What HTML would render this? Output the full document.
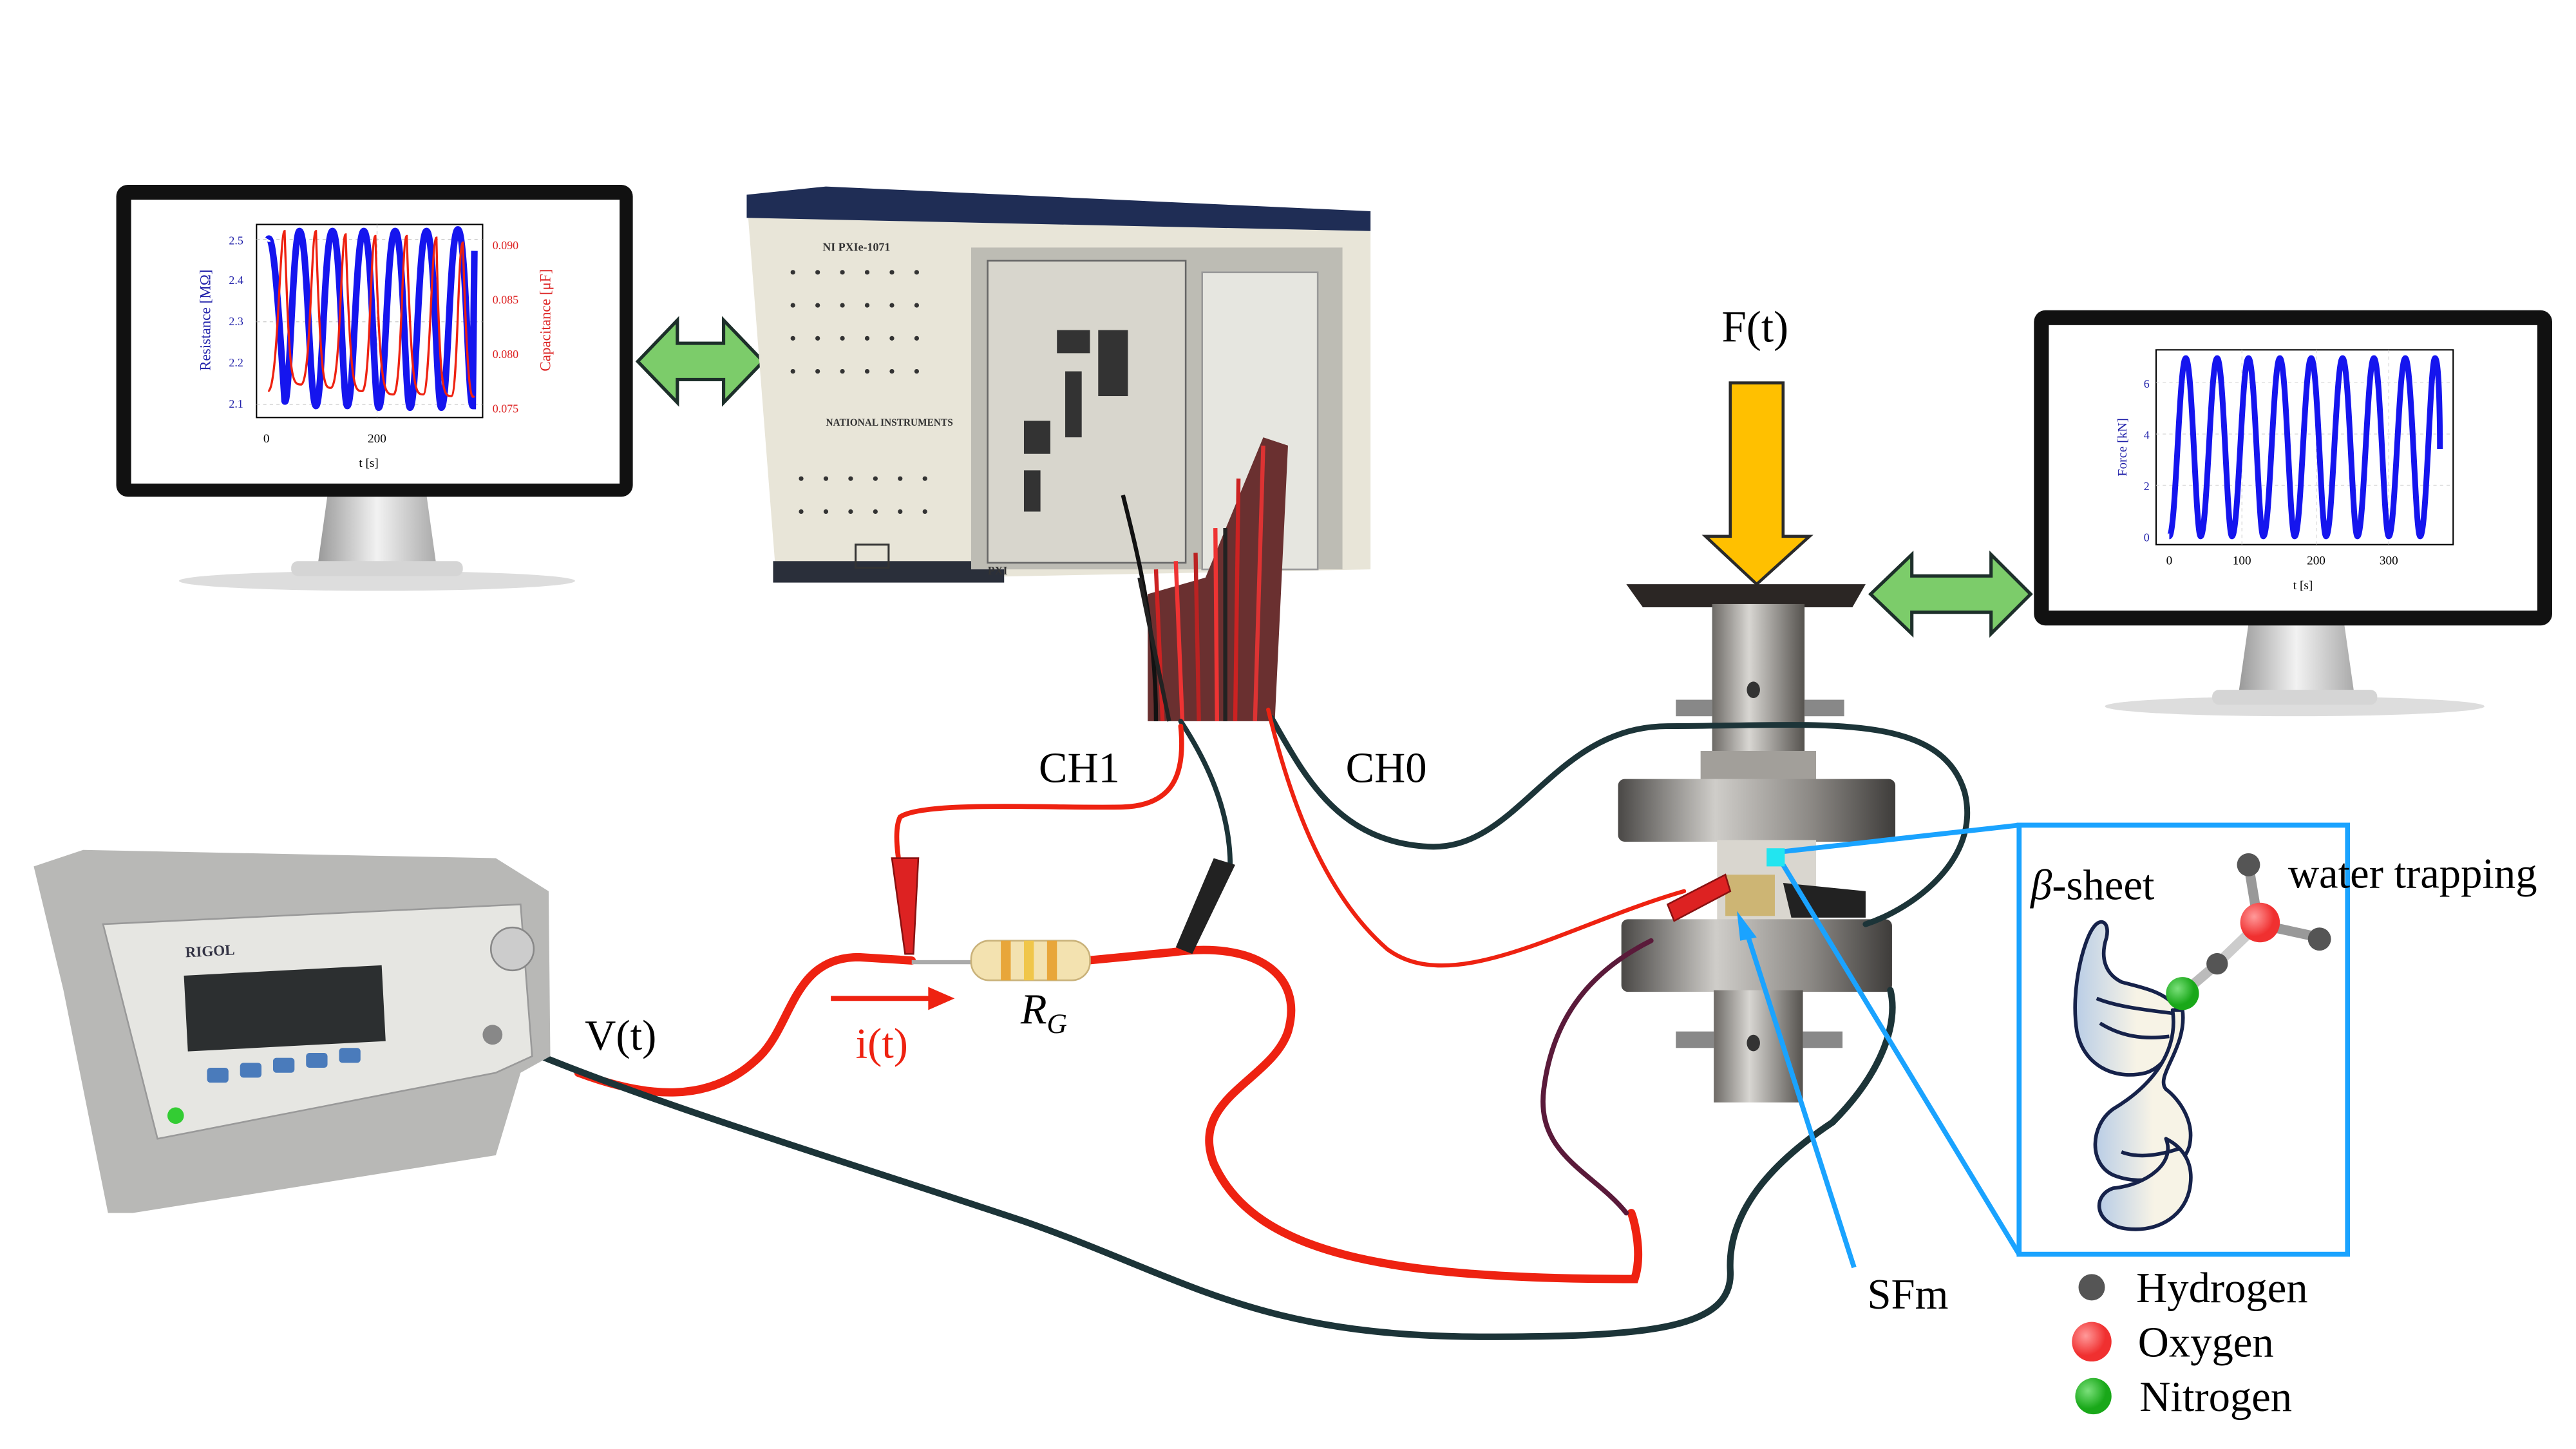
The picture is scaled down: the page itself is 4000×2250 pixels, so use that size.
<!DOCTYPE html>
<html><head><meta charset="utf-8"><style>
html,body{margin:0;padding:0;background:#fff;}
svg{display:block;}
text{font-family:"Liberation Serif",serif;}
</style></head><body>
<svg width="4000" height="2250" viewBox="0 0 1560 878" xmlns="http://www.w3.org/2000/svg">
<defs>
<linearGradient id="stand" x1="0" x2="1"><stop offset="0" stop-color="#999"/><stop offset="0.5" stop-color="#f2f2f2"/><stop offset="1" stop-color="#aaa"/></linearGradient>
<linearGradient id="col" x1="0" x2="1"><stop offset="0" stop-color="#6d6a66"/><stop offset="0.4" stop-color="#d8d6d2"/><stop offset="1" stop-color="#55524e"/></linearGradient>
<linearGradient id="flange" x1="0" x2="1"><stop offset="0" stop-color="#4a4846"/><stop offset="0.35" stop-color="#cfcdc9"/><stop offset="0.7" stop-color="#8b8884"/><stop offset="1" stop-color="#3e3c3a"/></linearGradient>
<radialGradient id="red" cx="0.35" cy="0.35"><stop offset="0" stop-color="#ff9a9a"/><stop offset="1" stop-color="#f03030"/></radialGradient>
<radialGradient id="grn" cx="0.35" cy="0.35"><stop offset="0" stop-color="#7be07b"/><stop offset="1" stop-color="#19a819"/></radialGradient>
<linearGradient id="rib" x1="0" x2="1"><stop offset="0" stop-color="#b9cde6"/><stop offset="0.6" stop-color="#f7f3e6"/><stop offset="1" stop-color="#f7f3e6"/></linearGradient>
</defs>

<!-- LEFT MONITOR -->
<ellipse cx="228" cy="352" rx="120" ry="6" fill="#ddd"/>
<path d="M198 300 L258 300 L264 343 L192 343 Z" fill="url(#stand)"/>
<rect x="176" y="340" width="104" height="9" rx="4" fill="#d5d5d5"/>
<rect x="70" y="112" width="313" height="189" rx="7" fill="#111"/>
<rect x="79" y="121" width="296" height="172" fill="#fff"/>
<rect x="155" y="136" width="137" height="117" fill="none" stroke="#000" stroke-width="0.8"/>
<g stroke="#bbb" stroke-width="0.4" stroke-dasharray="2,2"><line x1="155" y1="145" x2="292" y2="145"/><line x1="155" y1="195" x2="292" y2="195"/><line x1="155" y1="245" x2="292" y2="245"/><line x1="228" y1="136" x2="228" y2="253"/></g>
<path d="M162 145 C165 140 168 180 172 243 C175 250 177 140 181 140 C186 140 187 245 191 246 C195 246 196 140 201 140 C206 140 207 246 210 246 C214 246 215 140 220 140 C225 140 226 247 229 247 C233 247 234 140 239 140 C244 140 245 247 248 247 C252 247 253 140 258 140 C263 140 264 247 267 247 C271 247 272 139 277 139 C282 139 283 246 286 246 L287 152" fill="none" stroke="#1515ee" stroke-width="4"/>
<path d="M162 237 C168 237 169 140 172 140 C175 230 176 233 182 233 C188 233 188 140 191 140 C194 235 196 235 200 235 C206 235 206 142 209 142 C212 236 214 237 219 237 C224 237 224 143 227 143 C230 238 232 239 238 239 C243 239 243 143 246 143 C249 238 251 239 256 239 C260 239 261 144 264 144 C266 239 268 240 273 240 C277 240 277 147 280 147 C283 242 285 242 287 240" fill="none" stroke="#e21" stroke-width="1.3"/>
<g font-size="7" fill="#2222aa" text-anchor="end"><text x="147" y="148">2.5</text><text x="147" y="172">2.4</text><text x="147" y="197">2.3</text><text x="147" y="222">2.2</text><text x="147" y="247">2.1</text></g>
<g font-size="7" fill="#d22"><text x="298" y="151">0.090</text><text x="298" y="184">0.085</text><text x="298" y="217">0.080</text><text x="298" y="250">0.075</text></g>
<g font-size="7.5" fill="#000" text-anchor="middle"><text x="161" y="268">0</text><text x="228" y="268">200</text><text x="223" y="283">t [s]</text></g>
<text transform="translate(127,194) rotate(-90)" font-size="9" fill="#2222aa" text-anchor="middle">Resistance [MΩ]</text>
<text transform="translate(333,194) rotate(-90)" font-size="9" fill="#d22" text-anchor="middle">Capacitance [μF]</text>

<!-- LEFT DOUBLE ARROW -->
<path d="M386 219 L410 194 L410 208 L438 208 L438 194 L462 219 L438 244 L438 230 L410 230 L410 244 Z" fill="#7ccc6a" stroke="#1d2f2a" stroke-width="2"/>

<!-- PXI CHASSIS -->
<path d="M452 120 L830 128 L830 345 L470 352 Z" fill="#e8e5d8"/>
<path d="M452 118 L500 113 L830 128 L830 140 L452 132 Z" fill="#1f2d55"/>
<rect x="468" y="340" width="140" height="13" fill="#2a2f3a"/>
<rect x="588" y="150" width="225" height="195" fill="#bdbcb4"/>
<rect x="598" y="158" width="120" height="183" fill="#d8d6cd" stroke="#666" stroke-width="1"/>
<rect x="728" y="165" width="70" height="180" fill="#e6e6e0" stroke="#999"/>
<g fill="#333"><rect x="640" y="200" width="20" height="14"/><rect x="665" y="200" width="18" height="40"/><rect x="620" y="255" width="16" height="20"/><rect x="645" y="225" width="10" height="40"/><rect x="620" y="285" width="10" height="25"/></g>
<g fill="#333" font-family="Liberation Sans,sans-serif" font-size="7" font-weight="bold"><text x="498" y="152">NI PXIe-1071</text><text x="598" y="348">PXI</text><text x="500" y="258" font-size="6">NATIONAL INSTRUMENTS</text></g>
<rect x="518" y="330" width="20" height="14" fill="none" stroke="#333" stroke-width="1.2"/>
<g fill="#333">
<circle cx="480" cy="165" r="1.4"/><circle cx="495" cy="165" r="1.4"/><circle cx="510" cy="165" r="1.4"/><circle cx="525" cy="165" r="1.4"/><circle cx="540" cy="165" r="1.4"/><circle cx="555" cy="165" r="1.4"/>
<circle cx="480" cy="185" r="1.4"/><circle cx="495" cy="185" r="1.4"/><circle cx="510" cy="185" r="1.4"/><circle cx="525" cy="185" r="1.4"/><circle cx="540" cy="185" r="1.4"/><circle cx="555" cy="185" r="1.4"/>
<circle cx="480" cy="205" r="1.4"/><circle cx="495" cy="205" r="1.4"/><circle cx="510" cy="205" r="1.4"/><circle cx="525" cy="205" r="1.4"/><circle cx="540" cy="205" r="1.4"/><circle cx="555" cy="205" r="1.4"/>
<circle cx="480" cy="225" r="1.4"/><circle cx="495" cy="225" r="1.4"/><circle cx="510" cy="225" r="1.4"/><circle cx="525" cy="225" r="1.4"/><circle cx="540" cy="225" r="1.4"/><circle cx="555" cy="225" r="1.4"/>
<circle cx="485" cy="290" r="1.4"/><circle cx="500" cy="290" r="1.4"/><circle cx="515" cy="290" r="1.4"/><circle cx="530" cy="290" r="1.4"/><circle cx="545" cy="290" r="1.4"/><circle cx="560" cy="290" r="1.4"/>
<circle cx="485" cy="310" r="1.4"/><circle cx="500" cy="310" r="1.4"/><circle cx="515" cy="310" r="1.4"/><circle cx="530" cy="310" r="1.4"/><circle cx="545" cy="310" r="1.4"/><circle cx="560" cy="310" r="1.4"/>
</g>
<!-- cable bundle -->
<path d="M695 360 L730 350 L765 265 L780 270 L772 437 L695 437 Z" fill="#6a3030"/>
<g fill="none" stroke-width="2.5">
<path d="M680 300 C690 340 700 380 700 437" stroke="#111"/>
<path d="M700 345 L704 437" stroke="#c22"/><path d="M712 340 L716 437" stroke="#e33"/><path d="M724 335 L726 437" stroke="#b22"/><path d="M736 320 L737 437" stroke="#e33"/><path d="M750 290 L748 437" stroke="#c22"/><path d="M765 270 L760 437" stroke="#d33"/><path d="M742 320 L742 437" stroke="#222"/><path d="M690 350 L708 437" stroke="#222"/></g>

<!-- F(t) arrow -->
<text x="1063" y="207" font-size="27" text-anchor="middle">F(t)</text>
<path d="M1048 232 L1080 232 L1080 325 L1096 325 L1064 354 L1033 325 L1048 325 Z" fill="#ffc000" stroke="#2a2a2a" stroke-width="1.8"/>

<!-- RIGHT MONITOR -->
<ellipse cx="1390" cy="428" rx="115" ry="6" fill="#ddd"/>
<path d="M1362 378 L1420 378 L1426 420 L1356 420 Z" fill="url(#stand)"/>
<rect x="1340" y="418" width="100" height="9" rx="4" fill="#d5d5d5"/>
<rect x="1232" y="188" width="314" height="191" rx="7" fill="#111"/>
<rect x="1241" y="197" width="296" height="173" fill="#fff"/>
<rect x="1306" y="212" width="180" height="118" fill="none" stroke="#000" stroke-width="0.8"/>
<g stroke="#ccc" stroke-width="0.4" stroke-dasharray="2,2"><line x1="1306" y1="232" x2="1486" y2="232"/><line x1="1306" y1="263" x2="1486" y2="263"/><line x1="1306" y1="294" x2="1486" y2="294"/><line x1="1358" y1="212" x2="1358" y2="330"/><line x1="1403" y1="212" x2="1403" y2="330"/><line x1="1447" y1="212" x2="1447" y2="330"/></g>
<path d="M1314 325 C1318 325 1320 217 1324 217 C1328 217 1330 325 1333 325 C1337 325 1339 217 1343 217 C1347 217 1349 325 1352 325 C1356 325 1358 217 1362 217 C1366 217 1368 325 1371 325 C1375 325 1377 217 1381 217 C1385 217 1387 325 1390 325 C1394 325 1396 217 1400 217 C1404 217 1406 325 1409 325 C1413 325 1415 217 1419 217 C1423 217 1425 325 1428 325 C1432 325 1434 217 1438 217 C1442 217 1444 325 1447 325 C1451 325 1453 217 1457 217 C1461 217 1463 325 1466 325 C1470 325 1472 217 1475 217 C1478 217 1478 270 1478 272" fill="none" stroke="#1515ee" stroke-width="3.5"/>
<g font-size="7" fill="#2222aa" text-anchor="end"><text x="1302" y="235">6</text><text x="1302" y="266">4</text><text x="1302" y="297">2</text><text x="1302" y="328">0</text></g>
<g font-size="7.5" fill="#000" text-anchor="middle"><text x="1314" y="342">0</text><text x="1358" y="342">100</text><text x="1403" y="342">200</text><text x="1447" y="342">300</text><text x="1395" y="357">t [s]</text></g>
<text transform="translate(1288,271) rotate(-90)" font-size="8" fill="#2222aa" text-anchor="middle">Force [kN]</text>

<!-- RIGHT DOUBLE ARROW -->
<path d="M1133 360 L1158 336 L1158 349 L1206 349 L1206 336 L1230 360 L1206 384 L1206 371 L1158 371 L1158 384 Z" fill="#7ccc6a" stroke="#1d2f2a" stroke-width="2"/>

<!-- TESTING MACHINE -->
<path d="M985 354 L1130 354 L1122 368 L995 368 Z" fill="#2b2624"/>
<rect x="1037" y="366" width="56" height="108" fill="url(#col)"/>
<ellipse cx="1062" cy="418" rx="4" ry="5" fill="#333"/>
<rect x="1015" y="424" width="22" height="10" fill="#888"/><rect x="1093" y="424" width="24" height="10" fill="#888"/>
<rect x="1030" y="455" width="70" height="18" fill="#a29f9a"/>
<rect x="980" y="472" width="168" height="38" rx="4" fill="url(#flange)"/>
<rect x="1040" y="509" width="60" height="50" fill="#d9d6cf"/>
<rect x="1045" y="530" width="30" height="25" fill="#c8a64d" opacity="0.7"/>
<path d="M1080 535 L1130 540 L1130 556 L1085 556 Z" fill="#222"/>
<rect x="982" y="557" width="164" height="44" rx="4" fill="url(#flange)"/>
<rect x="1038" y="600" width="54" height="68" fill="url(#col)"/>
<ellipse cx="1062" cy="632" rx="4" ry="5" fill="#333"/>
<rect x="1015" y="625" width="23" height="10" fill="#888"/><rect x="1092" y="625" width="24" height="10" fill="#888"/>

<!-- CABLES -->
<g fill="none" stroke-linecap="round">
<path d="M770 435 C790 470 810 510 865 513 C920 516 940 440 1010 440 C1100 440 1175 430 1190 480 C1200 520 1160 550 1130 560" stroke="#1c3438" stroke-width="3.5"/>
<path d="M715 437 C730 460 745 490 745 525" stroke="#1c3438" stroke-width="3"/>
<path d="M715 440 C718 470 710 488 680 489 C640 490 560 485 545 495 C540 505 545 530 550 550" stroke="#e21" stroke-width="3"/>
<path d="M768 430 C780 480 800 540 840 575 C880 605 950 560 1020 540" stroke="#e21" stroke-width="2.5"/>
<path d="M350 650 C390 665 430 670 460 640 C480 620 480 580 520 580 L552 582" stroke="#e21" stroke-width="5"/>
<path d="M658 582 L710 577 C760 570 790 590 780 625 C770 655 720 665 735 705 C760 760 840 775 990 775 C995 760 990 740 988 735" stroke="#e21" stroke-width="5"/>
<path d="M1000 570 C960 590 940 620 935 660 C930 700 965 710 985 735" stroke="#5a1a3a" stroke-width="3"/>
<path d="M320 637 C400 670 500 700 620 740 C720 775 760 810 900 810 C1000 810 1050 805 1048 770 C1046 730 1080 700 1110 680 C1140 650 1150 620 1145 600" stroke="#1c3438" stroke-width="4"/>
</g>
<!-- clips -->
<path d="M540 520 L556 520 L553 578 L548 578 Z" fill="#d22" stroke="#811" stroke-width="1"/>
<path d="M735 520 L748 524 L722 578 L712 574 Z" fill="#222"/>
<path d="M1010 548 L1045 530 L1048 540 L1014 558 Z" fill="#d22" stroke="#811"/>
<!-- resistor -->
<line x1="552" y1="583" x2="592" y2="583" stroke="#aaa" stroke-width="2.5"/>
<rect x="588" y="570" width="72" height="24" rx="11" fill="#f3e2b0" stroke="#c9b27a"/>
<rect x="606" y="570" width="6" height="24" fill="#e8a63a"/><rect x="620" y="570" width="6" height="24" fill="#f0c64a"/><rect x="634" y="570" width="6" height="24" fill="#e8a63a"/>

<!-- GENERATOR -->
<path d="M20 525 L50 515 L300 520 L332 540 L333 640 L315 650 L300 700 L80 735 L65 735 L38 600 Z" fill="#b8b8b6"/>
<path d="M62 560 L315 548 L322 640 L300 650 L95 690 Z" fill="#e6e6e2" stroke="#999"/>
<rect x="112" y="588" width="120" height="46" fill="#2c2f30" transform="rotate(-3 172 609)"/>
<g fill="#4a7bbb"><rect x="125" y="647" width="13" height="9" rx="2"/><rect x="145" y="644" width="13" height="9" rx="2"/><rect x="165" y="641" width="13" height="9" rx="2"/><rect x="185" y="638" width="13" height="9" rx="2"/><rect x="205" y="635" width="13" height="9" rx="2"/></g>
<circle cx="310" cy="575" r="13" fill="#ccc" stroke="#888"/>
<circle cx="298" cy="627" r="6" fill="#888"/>
<circle cx="106" cy="676" r="5" fill="#3c3"/>
<text x="112" y="580" font-family="Liberation Sans,sans-serif" font-size="9" font-weight="bold" fill="#334" transform="rotate(-3 112 580)">RIGOL</text>

<!-- LABELS -->
<g font-size="26">
<text x="629" y="474">CH1</text>
<text x="815" y="474">CH0</text>
<text x="354" y="636">V(t)</text>
<text x="518" y="641" fill="#e21">i(t)</text>
<text x="618" y="620" font-style="italic">R<tspan font-size="17" dy="6">G</tspan></text>
<text x="1131" y="793">SFm</text>
</g>
<path d="M503 605 L565 605" stroke="#e21" stroke-width="3"/>
<path d="M562 598 L578 605 L562 612 Z" fill="#e21"/>

<!-- BLUE ZOOM -->
<g stroke="#1aa3ff" stroke-width="3" fill="none">
<rect x="1223" y="500" width="199" height="260"/>
<line x1="1080" y1="516" x2="1223" y2="500"/>
<line x1="1080" y1="524" x2="1223" y2="760"/>
<line x1="1123" y1="768" x2="1058" y2="565"/>
</g>
<path d="M1052 552 L1064 568 L1054 570 Z" fill="#1aa3ff"/>
<rect x="1070" y="514" width="11" height="11" fill="#22e5f0"/>

<!-- helix ribbon -->
<g stroke="#16224a" stroke-width="2.2" fill="url(#rib)" stroke-linejoin="round">
<path d="M1268 562 C1262 570 1254 600 1258 625 C1262 645 1280 655 1300 650 C1315 645 1322 625 1318 610 C1310 600 1295 598 1285 595 C1275 590 1272 580 1276 568 C1278 558 1272 556 1268 562 Z"/>
<path d="M1316 612 C1320 640 1300 660 1280 672 C1266 682 1265 705 1280 712 C1300 720 1320 712 1326 695 C1330 680 1320 666 1312 660 C1305 652 1325 635 1322 612 Z"/>
<path d="M1312 690 C1318 705 1300 718 1280 720 C1268 724 1268 740 1285 744 C1305 748 1322 738 1326 722 C1330 705 1322 695 1312 690 Z"/>
<path d="M1270 605 C1282 610 1300 612 1316 614" fill="none"/>
<path d="M1272 620 C1285 628 1298 630 1314 628" fill="none"/>
<path d="M1285 698 C1295 702 1308 700 1320 696" fill="none"/>
</g>
<g stroke-linecap="round">
<line x1="1322" y1="602" x2="1342" y2="585" stroke="#bbb" stroke-width="6"/>
<line x1="1342" y1="585" x2="1368" y2="560" stroke="#ccc" stroke-width="6"/>
<line x1="1368" y1="560" x2="1362" y2="524" stroke="#999" stroke-width="6"/>
<line x1="1368" y1="560" x2="1405" y2="568" stroke="#999" stroke-width="6"/>
</g>
<circle cx="1362" cy="524" r="7" fill="#555"/>
<circle cx="1405" cy="569" r="7" fill="#555"/>
<circle cx="1343" cy="584" r="6.5" fill="#555"/>
<circle cx="1369" cy="559" r="12" fill="url(#red)"/>
<circle cx="1322" cy="602" r="10" fill="url(#grn)"/>
<text x="1230" y="545" font-size="26"><tspan font-style="italic">β</tspan>-sheet</text>
<text x="1386" y="538" font-size="26">water trapping</text>

<!-- legend -->
<circle cx="1267" cy="780" r="8" fill="#555"/>
<circle cx="1267" cy="813" r="12" fill="url(#red)"/>
<circle cx="1268" cy="846" r="11" fill="url(#grn)"/>
<g font-size="26"><text x="1294" y="789">Hydrogen</text><text x="1295" y="822">Oxygen</text><text x="1296" y="855">Nitrogen</text></g>
</svg>
</body></html>
